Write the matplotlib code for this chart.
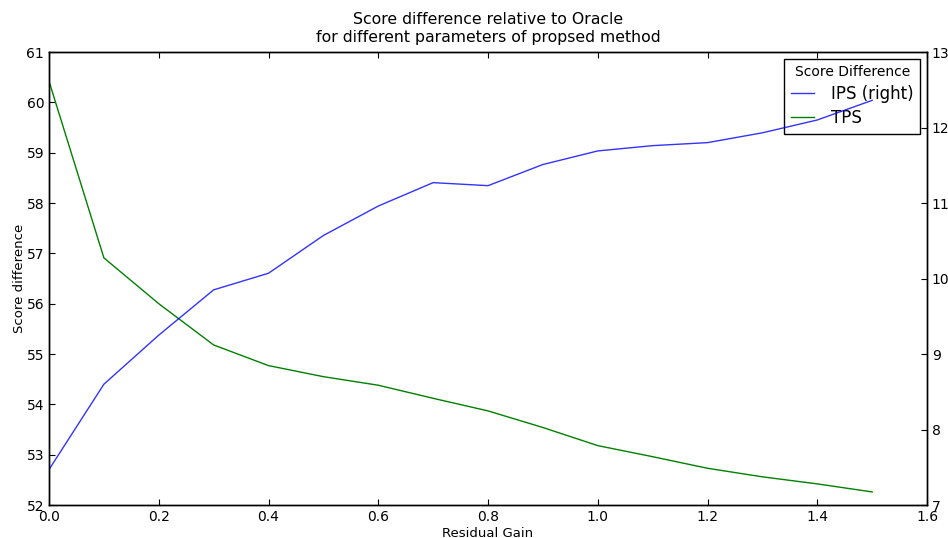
import numpy as np
import matplotlib
matplotlib.use("Agg")
import matplotlib.pyplot as plt

# residual gain values and score differences
gain = [0.0, 0.1, 0.2, 0.3, 0.4, 0.5, 0.6, 0.7, 0.8, 0.9, 1.0, 1.1, 1.2, 1.3, 1.4, 1.5]
ips = [7.47, 8.60, 9.25, 9.85, 10.07, 10.57, 10.96, 11.27, 11.23, 11.51,
       11.69, 11.76, 11.80, 11.93, 12.10, 12.36]
tps = [60.42, 56.91, 56.0, 55.18, 54.77, 54.55, 54.38, 54.12, 53.87, 53.54,
       53.18, 52.96, 52.73, 52.56, 52.42, 52.26]

plt.rcParams['font.family'] = 'DejaVu Sans'
plt.rcParams['xtick.direction'] = 'in'
plt.rcParams['ytick.direction'] = 'in'

fig = plt.figure(figsize=(9.48, 5.38), dpi=100)
ax = fig.add_axes([0.0517, 0.0613, 0.9262, 0.842])

ln2, = ax.plot(gain, tps, color='#008000', lw=1.0, label='TPS')
ax.set_xlim(0, 1.6)
ax.set_ylim(52, 61)
ax.set_xticks(np.arange(0, 1.61, 0.2))
ax.set_xticklabels(['%.1f' % v for v in np.arange(0, 1.61, 0.2)])
ax.tick_params(labelsize=10, top=True, length=4)
ax.set_xlabel('Residual Gain', fontsize=9.5, labelpad=2)
ax.set_ylabel('Score difference', fontsize=9.5, labelpad=0)
ax.set_title('Score difference relative to Oracle\nfor different parameters of propsed method',
             fontsize=11.3, pad=7, linespacing=1.25)

ax2 = ax.twinx()
ln1, = ax2.plot(gain, ips, color='#0000ff', lw=1.0, alpha=0.8, label='IPS (right)')
ax2.set_ylim(7, 13)
ax2.tick_params(labelsize=10, length=4, direction='in')

for a in (ax, ax2):
    for s in a.spines.values():
        s.set_linewidth(1.0)

# legend sits on the lower axes so the IPS line passes over it, as in the original
leg = ax.legend([ln1, ln2], ['IPS (right)', 'TPS'], loc='upper right',
                title='Score Difference', fontsize=12, title_fontsize=10,
                fancybox=False, framealpha=1, edgecolor='black',
                handlelength=1.4, handletextpad=1.0, borderpad=0.4,
                labelspacing=0.35, borderaxespad=0.4)
leg.get_frame().set_linewidth(1.0)

fig.savefig('out.png', dpi=100)
